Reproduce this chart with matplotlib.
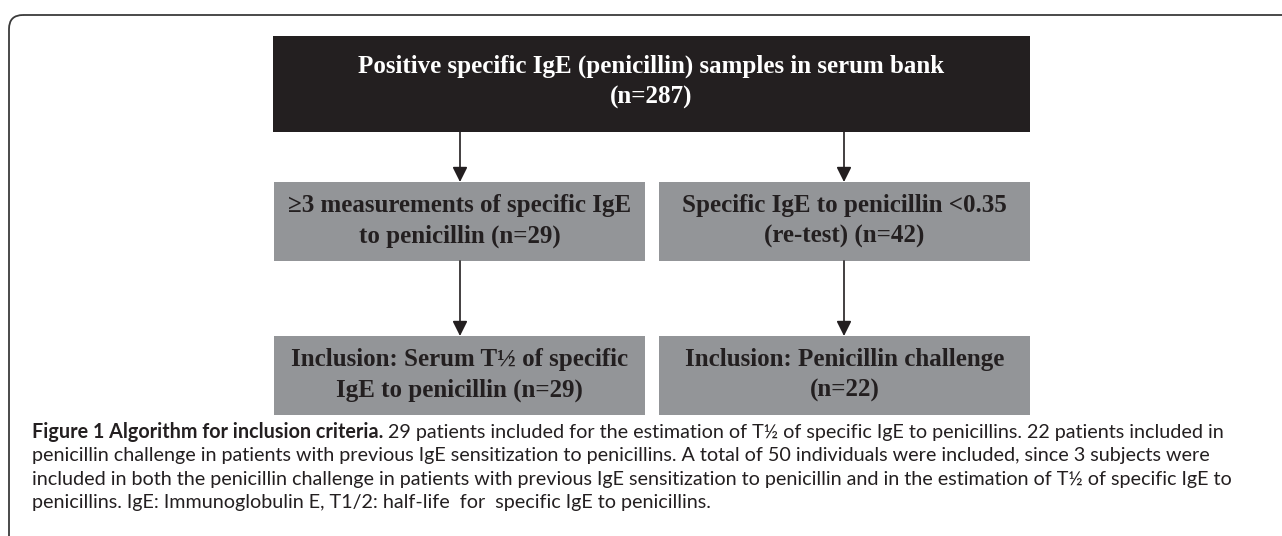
import matplotlib.pyplot as plt
from matplotlib.patches import Rectangle, FancyBboxPatch

# flowchart content
top_label = "Positive specific IgE (penicillin) samples in serum bank"
top_n = 287

mid_labels = ["\u22653 measurements of specific IgE\nto penicillin",
              "Specific IgE to penicillin <0.35\n(re-test)"]
mid_n = [29, 42]

bottom_labels = ["Inclusion: Serum T\u00bd of specific\nIgE to penicillin",
                 "Inclusion: Penicillin challenge\n"]
bottom_n = [29, 22]

caption_bold = "Figure 1 Algorithm for inclusion criteria."
caption_lines = [
    " 29 patients included for the estimation of T\u00bd of specific IgE to penicillins. 22 patients included in",
    "penicillin challenge in patients with previous IgE sensitization to penicillins. A total of 50 individuals were included, since 3 subjects were",
    "included in both the penicillin challenge in patients with previous IgE sensitization to penicillin and in the estimation of T\u00bd of specific IgE to",
    "penicillins. IgE: Immunoglobulin E, T1/2: half-life  for  specific IgE to penicillins.",
]

W, H = 1282, 536
fig = plt.figure(figsize=(W / 100, H / 100), dpi=100)
ax = fig.add_axes([0, 0, 1, 1])
ax.set_xlim(0, W)
ax.set_ylim(H, 0)
ax.axis('off')

dark = '#231f20'
grey = '#939598'
serif = dict(family='Liberation Serif', weight='bold', fontsize=18)

# outer frame (open to the right and bottom)
ax.add_patch(FancyBboxPatch((9, 15), 1400, 600, boxstyle="round,pad=0,rounding_size=14",
                            fill=False, ec='#3a3a3a', lw=1.3))

# top box
ax.add_patch(Rectangle((273, 36), 757, 96, color=dark, lw=0))
ax.text(651.5, 82, "%s\n(n=%d)" % (top_label, top_n), color='white', ha='center',
        va='center', linespacing=1.4, **serif)

left_x = [274, 659]
box_w = 371
rows = [(182, mid_labels, mid_n), (336, bottom_labels, bottom_n)]
for y0, labels, ns in rows:
    for x0, lab, n in zip(left_x, labels, ns):
        ax.add_patch(Rectangle((x0, y0), box_w, 79, color=grey, lw=0))
        if lab.endswith("\n"):
            txt = lab + "(n=%d)" % n
        else:
            txt = lab + " (n=%d)" % n
        ax.text(x0 + box_w / 2, y0 + 39, txt, color=dark, ha='center', va='center',
                linespacing=1.4, **serif)

# arrows
arrow = dict(arrowstyle='-|>,head_length=0.9,head_width=0.45', color=dark, lw=1.2,
             mutation_scale=10, shrinkA=0, shrinkB=0)
for xc in [460, 844]:
    ax.annotate('', xy=(xc, 182), xytext=(xc, 132), arrowprops=arrow)
    ax.annotate('', xy=(xc, 336), xytext=(xc, 261), arrowprops=arrow)

# caption
cap_size = 14.2
t = ax.text(32, 438, caption_bold, family='Lato', weight='bold', fontsize=cap_size,
            color=dark, ha='left', va='baseline')
fig.canvas.draw()
bb = t.get_window_extent()
x_after = ax.transData.inverted().transform((bb.x1, bb.y0))[0]
ax.text(x_after, 438, caption_lines[0], family='Lato', fontsize=cap_size, color=dark,
        ha='left', va='baseline')
for i, line in enumerate(caption_lines[1:]):
    ax.text(32, 438 + 23.3 * (i + 1), line, family='Lato', fontsize=cap_size, color=dark,
            ha='left', va='baseline')

fig.savefig('out.png', dpi=100)
